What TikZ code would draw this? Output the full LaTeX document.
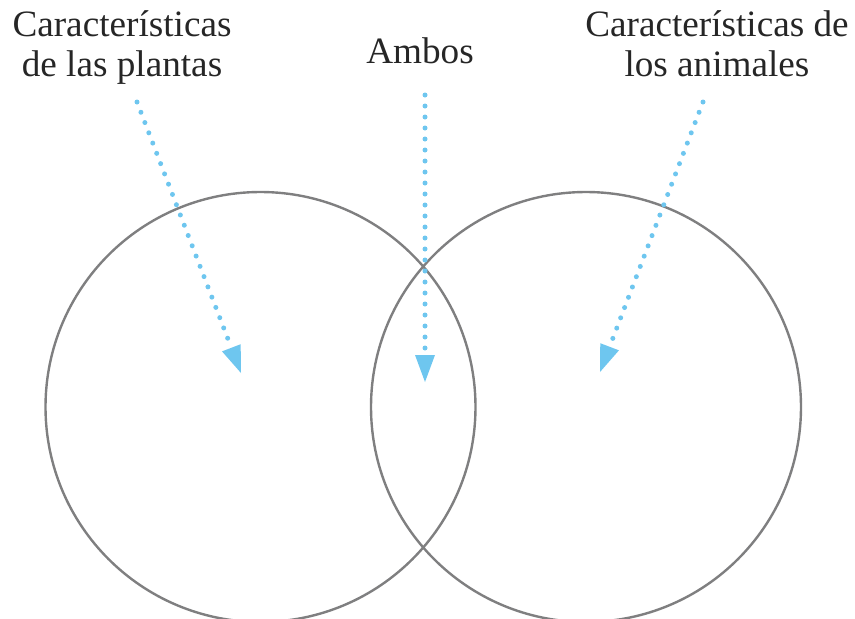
\documentclass[tikz,border=0pt]{standalone}
\usepackage{fontspec}
\setmainfont{Liberation Serif}
\usetikzlibrary{arrows.meta}
\definecolor{ring}{HTML}{7F7F80}
\definecolor{dotblue}{HTML}{6EC6EF}
\tikzset{
  ring/.style={circle, draw=ring, line width=2.4pt, minimum size=430pt, inner sep=0pt},
  label/.style={font=\fontsize{37.2}{40}\selectfont, align=center, inner sep=0pt, text=black!85},
  pointer/.style={draw=dotblue, line width=5pt, line cap=round, dash pattern=on 0pt off 11pt,
    -{Triangle[length=27pt, width=20pt, line width=0pt, fill=dotblue]}}
}
\begin{document}
\begin{tikzpicture}[x=1pt, y=1pt]
\useasboundingbox (0,0) rectangle (855,-619);
\node[ring] (L) at (260.5,-407) {};
\node[ring] (R) at (586,-407) {};
\node[label, anchor=north] (tl) at (122,-10) {Características\\de las plantas};
\node[label, anchor=north] (tm) at (420,-37) {Ambos};
\node[label, anchor=north] (tr) at (717,-10) {Características de\\los animales};
\coordinate (s1) at (137,-102);
\coordinate (e1) at (241,-373);
\coordinate (s2) at (425,-95);
\coordinate (e2) at (425,-382);
\coordinate (s3) at (703,-102);
\coordinate (e3) at (600,-372);
\draw[pointer] (s1) -- (e1);
\draw[pointer] (s2) -- (e2);
\draw[pointer] (s3) -- (e3);
\end{tikzpicture}
\end{document}
